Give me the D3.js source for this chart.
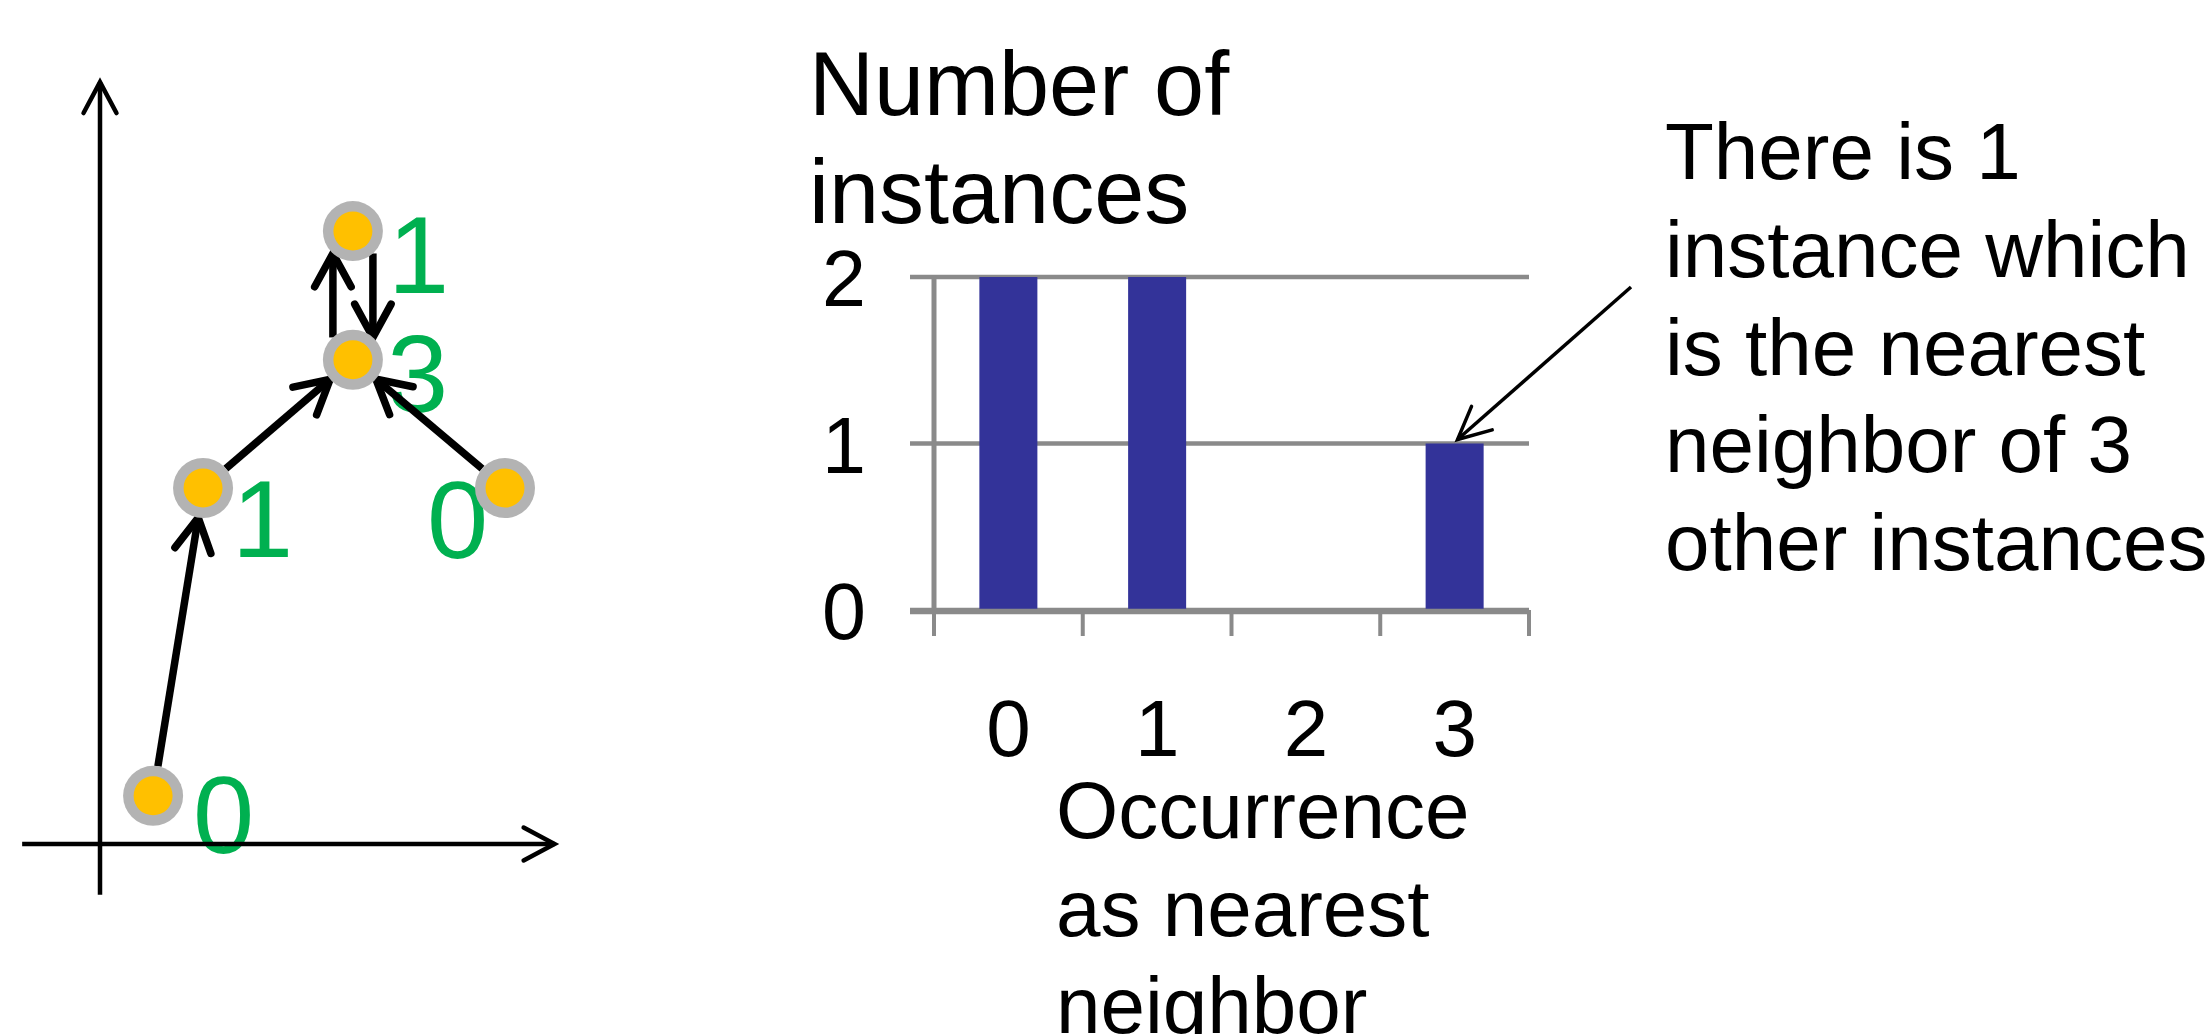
<!DOCTYPE html>
<html>
<head>
<meta charset="utf-8">
<script src="https://cdn.jsdelivr.net/npm/d3@7"></script>
<style>
  html, body { margin: 0; padding: 0; background: #fff; overflow: hidden; }
  svg { display: block; }
  text { font-family: "Liberation Sans", Arial, sans-serif; }
</style>
</head>
<body>
<svg id="chart" width="2208" height="1034"></svg>
<script>
// ---- Toy 2-D instances (abstract feature-space units) ----
const instanceX = [11.8, 22.9, 56.2, 56.2, 90.0];
const instanceY = [10.7, 79.1, 107.6, 136.2, 79.1];
// Each instance points at its nearest neighbour: nnSource[i] -> nnTarget[i]
const nnSource = [0, 1, 4, 2, 3];
const nnTarget = [1, 2, 2, 3, 2];

// ---- Histogram of nearest-neighbour occurrences ----
const occurrenceCategories = ["0", "1", "2", "3"];
const instanceCounts = [2, 2, 0, 1];
const countTicks = [0, 1, 2];

// ---- Texts ----
const yAxisTitle = ["Number of", "instances"];
const xAxisTitle = ["Occurrence", "as nearest", "neighbor"];
const noteLines = ["There is 1", "instance which", "is the nearest", "neighbor of 3", "other instances"];

const svg = d3.select("#chart");

// open "V" arrowhead at a tip, pointing along unit vector (ux, uy)
function arrowHead(g, tipX, tipY, ux, uy, len, halfAngle, width) {
  const a = Math.atan2(uy, ux);
  const pts = [a + Math.PI - halfAngle, a + Math.PI + halfAngle].map(t => [tipX + len * Math.cos(t), tipY + len * Math.sin(t)]);
  g.append("path")
    .attr("d", d3.line()([pts[0], [tipX, tipY], pts[1]]))
    .attr("fill", "none").attr("stroke", "#000")
    .attr("stroke-width", width)
    .attr("stroke-linecap", "round").attr("stroke-linejoin", "miter");
}

// =================== left panel: instances & links ===================
const sx = d3.scaleLinear().domain([0, 100]).range([100, 550]);
const sy = d3.scaleLinear().domain([0, 170]).range([844, 79]);

const left = svg.append("g");

// occurrence count of each instance = number of links pointing at it
const occurrence = instanceX.map((_, i) => nnTarget.filter(t => t === i).length);
const labelOffset = [[40, 57], [29, 69], [34, 52], [35, 62], [-78, 70]];

left.selectAll("text.occ")
  .data(occurrence)
  .join("text")
  .attr("class", "occ")
  .attr("x", (d, i) => sx(instanceX[i]) + labelOffset[i][0])
  .attr("y", (d, i) => sy(instanceY[i]) + labelOffset[i][1])
  .attr("font-size", 110)
  .attr("fill", "#00B050")
  .text(d => d);

// axes of the feature space
const axX0 = sx(-17.3), axX1 = sx(101), axY0 = sy(-11.3), axY1 = sy(169.3);
left.append("line").attr("x1", axX0).attr("x2", axX1).attr("y1", sy(0)).attr("y2", sy(0))
  .attr("stroke", "#000").attr("stroke-width", 4.5);
arrowHead(left, axX1, sy(0), 1, 0, 35, 0.49, 4.5);
left.append("line").attr("x1", sx(0)).attr("x2", sx(0)).attr("y1", axY0).attr("y2", axY1)
  .attr("stroke", "#000").attr("stroke-width", 4.5);
arrowHead(left, sx(0), axY1, 0, -1, 35, 0.49, 4.5);

// nearest-neighbour links
const R = 30;
nnSource.forEach((s, i) => {
  const t = nnTarget[i];
  const x1 = sx(instanceX[s]), y1 = sy(instanceY[s]);
  const x2 = sx(instanceX[t]), y2 = sy(instanceY[t]);
  const L = Math.hypot(x2 - x1, y2 - y1);
  const ux = (x2 - x1) / L, uy = (y2 - y1) / L;
  // mutual neighbours get two side-by-side links
  const mutual = nnSource.some((s2, j) => s2 === t && nnTarget[j] === s);
  const off = mutual ? 20 : 0;
  const nx = uy, ny = -ux;
  const along = Math.sqrt(R * R - off * off);
  const ax = x1 + nx * off + ux * along, ay = y1 + ny * off + uy * along;
  const bx = x2 + nx * off - ux * along, by = y2 + ny * off - uy * along;
  left.append("line")
    .attr("x1", ax).attr("y1", ay)
    .attr("x2", bx - ux * 4).attr("y2", by - uy * 4)
    .attr("stroke", "#000").attr("stroke-width", 7.5);
  arrowHead(left, bx, by, ux, uy, 38, 0.5, 7.5);
});

// instances
const pts = left.selectAll("g.inst")
  .data(instanceX.map((x, i) => [x, instanceY[i]]))
  .join("g").attr("class", "inst")
  .attr("transform", d => `translate(${sx(d[0])},${sy(d[1])})`);
pts.append("circle").attr("r", R).attr("fill", "#B3B3B3");
pts.append("circle").attr("r", 19.5).attr("fill", "#FFC000");

// =================== right panel: histogram ===================
const plotLeft = 934, plotRight = 1529;
const bxScale = d3.scaleBand().domain(occurrenceCategories)
  .range([plotLeft, plotRight]).paddingInner(0.61).paddingOuter(0.305);
const byScale = d3.scaleLinear().domain([0, 2]).range([610, 277]);
const GRID = "#8A8A8A";

const right = svg.append("g");

// horizontal gridlines (extend left as outward tick marks)
right.selectAll("line.grid")
  .data(countTicks)
  .join("line").attr("class", "grid")
  .attr("x1", plotLeft - 24).attr("x2", plotRight)
  .attr("y1", d => byScale(d)).attr("y2", d => byScale(d))
  .attr("stroke", GRID).attr("stroke-width", 4.5);

// bars
right.selectAll("rect.bar")
  .data(instanceCounts)
  .join("rect").attr("class", "bar")
  .attr("x", (d, i) => bxScale(occurrenceCategories[i]))
  .attr("y", d => byScale(d))
  .attr("width", bxScale.bandwidth())
  .attr("height", d => byScale(0) - byScale(d))
  .attr("fill", "#333399");

// value axis
right.append("line").attr("x1", plotLeft).attr("x2", plotLeft)
  .attr("y1", byScale(2)).attr("y2", byScale(0) + 2)
  .attr("stroke", GRID).attr("stroke-width", 5);
// category axis
right.append("line").attr("x1", plotLeft - 24).attr("x2", plotRight)
  .attr("y1", byScale(0) + 1.5).attr("y2", byScale(0) + 1.5)
  .attr("stroke", GRID).attr("stroke-width", 5.5);
// category boundary ticks
const step = bxScale.step();
right.selectAll("line.xtick")
  .data(d3.range(occurrenceCategories.length + 1))
  .join("line").attr("class", "xtick")
  .attr("x1", i => plotLeft + i * step).attr("x2", i => plotLeft + i * step)
  .attr("y1", byScale(0)).attr("y2", byScale(0) + 26)
  .attr("stroke", GRID).attr("stroke-width", 4);

// tick labels
right.selectAll("text.ylab")
  .data(countTicks)
  .join("text").attr("class", "ylab")
  .attr("x", 866).attr("y", d => byScale(d) + 29)
  .attr("text-anchor", "end").attr("font-size", 79)
  .text(d => d);
right.selectAll("text.xlab")
  .data(occurrenceCategories)
  .join("text").attr("class", "xlab")
  .attr("x", d => bxScale(d) + bxScale.bandwidth() / 2)
  .attr("y", 756)
  .attr("text-anchor", "middle").attr("font-size", 80)
  .text(d => d);

// axis titles
right.selectAll("text.ytitle")
  .data(yAxisTitle)
  .join("text").attr("class", "ytitle")
  .attr("x", 809).attr("y", (d, i) => 115 + i * 108)
  .attr("font-size", 90)
  .text(d => d);
right.selectAll("text.xtitle")
  .data(xAxisTitle)
  .join("text").attr("class", "xtitle")
  .attr("x", 1056).attr("y", (d, i) => 838 + i * 97.5)
  .attr("font-size", 80)
  .text(d => d);

// annotation
right.selectAll("text.note")
  .data(noteLines)
  .join("text").attr("class", "note")
  .attr("x", 1665).attr("y", (d, i) => 179 + i * 97.8)
  .attr("font-size", 80)
  .text(d => d);

const tipX = bxScale("3") + bxScale.bandwidth() * 0.55, tipY = byScale(1) - 4;
const startX = 1631, startY = 287;
const La = Math.hypot(tipX - startX, tipY - startY);
right.append("line").attr("x1", startX).attr("y1", startY).attr("x2", tipX).attr("y2", tipY)
  .attr("stroke", "#000").attr("stroke-width", 3.5);
arrowHead(right, tipX, tipY, (tipX - startX) / La, (tipY - startY) / La, 36, 0.45, 3.5);
</script>
</body>
</html>
